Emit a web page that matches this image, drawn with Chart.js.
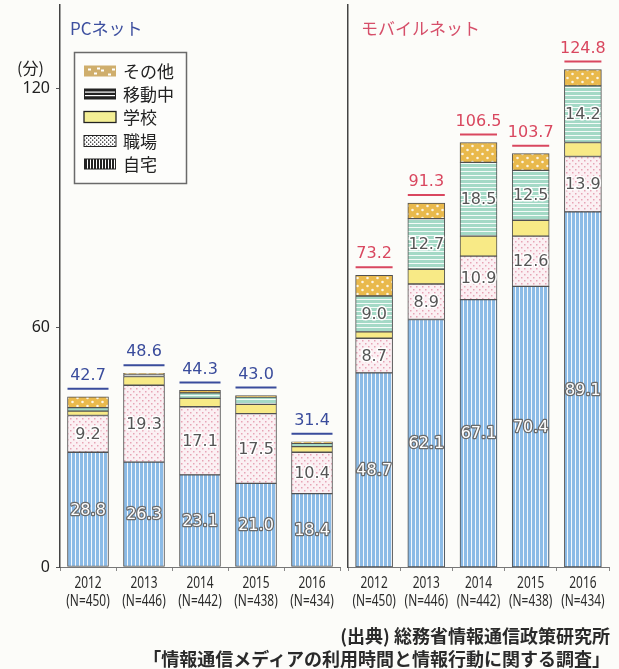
<!DOCTYPE html>
<html lang="ja">
<head>
<meta charset="utf-8">
<script src="https://cdn.jsdelivr.net/npm/chart.js@4.4.0/dist/chart.umd.min.js"></script>
<style>
  body { margin: 0; background: #fcfcf9; width: 619px; height: 669px; position: relative; overflow: hidden; font-family: "Noto Sans CJK JP", sans-serif; }
  #pcWrap { position: absolute; left: 0; top: 0; width: 348px; height: 669px; }
  #mobWrap { position: absolute; left: 340px; top: 0; width: 279px; height: 669px; }
  .ttl { position: absolute; top: 15px; font-size: 17px; white-space: nowrap; }
  .unit { position: absolute; left: 17px; top: 55px; font-size: 16px; color: #222; }
  .src { position: absolute; right: 9px; font-size: 18px; font-weight: bold; color: #2a2a2a; white-space: nowrap; }
</style>
</head>
<body>
<div id="pcWrap"><canvas id="pcChart"></canvas></div>
<div id="mobWrap"><canvas id="mobChart"></canvas></div>
<div class="ttl" style="left:70px;color:#3d4f9f;">PCネット</div>
<div class="ttl" style="left:361px;color:#d64f6a;">モバイルネット</div>
<div class="unit">(分)</div>
<div class="src" style="top:622px;">(出典) 総務省情報通信政策研究所</div>
<div class="src" style="top:645px;">「情報通信メディアの利用時間と情報行動に関する調査」</div>
<script>
const years = ['2012', '2013', '2014', '2015', '2016'];
const sampleN = ['(N=450)', '(N=446)', '(N=442)', '(N=438)', '(N=434)'];
const seriesNames = ['自宅', '職場', '学校', '移動中', 'その他'];
const yTicks = [0, 60, 120];

const pcHome = [28.8, 26.3, 23.1, 21.0, 18.4];
const pcWork = [9.2, 19.3, 17.1, 17.5, 10.4];
const pcSchool = [1.1, 2.2, 2.1, 2.3, 1.4];
const pcMoving = [0.9, 0.5, 1.4, 1.8, 0.8];
const pcOther = [2.7, 0.3, 0.6, 0.4, 0.4];
const pcTotal = [42.7, 48.6, 44.3, 43.0, 31.4];

const mobHome = [48.7, 62.1, 67.1, 70.4, 89.1];
const mobWork = [8.7, 8.9, 10.9, 12.6, 13.9];
const mobSchool = [1.6, 3.7, 5.0, 4.0, 3.5];
const mobMoving = [9.0, 12.7, 18.5, 12.5, 14.2];
const mobOther = [5.2, 3.9, 5.0, 4.2, 4.1];
const mobTotal = [73.2, 91.3, 106.5, 103.7, 124.8];

function makePattern(w, h, draw) {
  const c = document.createElement('canvas');
  c.width = w; c.height = h;
  const g = c.getContext('2d');
  draw(g, w, h);
  return g.createPattern(c, 'repeat');
}
const homeFill = makePattern(4, 4, (g, w, h) => {
  g.fillStyle = '#8cbbe6'; g.fillRect(0, 0, w, h);
  g.fillStyle = '#f4f8fc'; g.fillRect(3, 0, 1, h);
});
const workFill = makePattern(6, 6, (g, w, h) => {
  g.fillStyle = '#fbf0f3'; g.fillRect(0, 0, w, h);
  g.fillStyle = '#e7a4b6'; g.fillRect(1, 1, 1.5, 1.5); g.fillRect(4, 4, 1.5, 1.5);
});
const schoolFill = '#f8ea86';
const movingFill = makePattern(4, 4, (g, w, h) => {
  g.fillStyle = '#a4d9c6'; g.fillRect(0, 0, w, h);
  g.fillStyle = '#f4fbf8'; g.fillRect(0, 3, w, 1);
});
const otherFill = makePattern(10, 8, (g, w, h) => {
  g.fillStyle = '#e9b94c'; g.fillRect(0, 0, w, h);
  g.fillStyle = 'rgba(255,255,255,0.85)';
  g.beginPath(); g.arc(2.5, 2, 1.3, 0, Math.PI * 2); g.arc(7.5, 6, 1.3, 0, Math.PI * 2); g.fill();
});
const fills = [homeFill, workFill, schoolFill, movingFill, otherFill];

function makeDatasets(series) {
  return series.map((d, i) => ({
    label: seriesNames[i],
    data: d,
    backgroundColor: fills[i],
    borderColor: '#505050',
    borderWidth: 1,
    borderSkipped: false
  }));
}

const valueFont = '16px "DejaVu Sans", sans-serif';

const labelPlugin = {
  id: 'segLabels',
  afterDatasetsDraw(chart, args, opts) {
    const ctx = chart.ctx;
    ctx.save();
    ctx.textAlign = 'center';
    ctx.textBaseline = 'middle';
    ctx.font = valueFont;
    ctx.lineJoin = 'round';
    opts.show.forEach(di => {
      const meta = chart.getDatasetMeta(di);
      meta.data.forEach((bar, i) => {
        const v = chart.data.datasets[di].data[i];
        const y = (bar.y + bar.base) / 2 + 1;
        if (di === 0) {
          ctx.lineWidth = 2.5; ctx.strokeStyle = '#6a6a6a';
          ctx.strokeText(v.toFixed(1), bar.x, y);
          ctx.fillStyle = '#ffffff';
          ctx.fillText(v.toFixed(1), bar.x, y);
        } else {
          ctx.lineWidth = 3; ctx.strokeStyle = '#ffffff';
          ctx.strokeText(v.toFixed(1), bar.x, y);
          ctx.fillStyle = '#555555';
          ctx.fillText(v.toFixed(1), bar.x, y);
        }
      });
    });
    // totals with underline
    const yScale = chart.scales.y;
    const baseMeta = chart.getDatasetMeta(0);
    baseMeta.data.forEach((bar, i) => {
      const yT = yScale.getPixelForValue(opts.totals[i]);
      ctx.fillStyle = opts.color;
      ctx.fillText(opts.totals[i].toFixed(1), bar.x, yT - 21);
      ctx.strokeStyle = opts.color;
      ctx.lineWidth = 2;
      ctx.beginPath();
      ctx.moveTo(bar.x - bar.width / 2, yT - 8);
      ctx.lineTo(bar.x + bar.width / 2, yT - 8);
      ctx.stroke();
    });
    // condensed two-line category labels
    const xScale = chart.scales.x;
    ctx.fillStyle = '#2a2a2a';
    ctx.font = '17px "Noto Sans", sans-serif';
    years.forEach((yr, i) => {
      const x = xScale.getPixelForValue(i);
      [[yr, 583], [sampleN[i], 601]].forEach(([t, ty]) => {
        ctx.save();
        ctx.translate(x, ty);
        ctx.scale(0.7, 1);
        ctx.fillText(t, 0, 0);
        ctx.restore();
      });
    });
    ctx.restore();
  }
};

const legendPlugin = {
  id: 'boxLegend',
  afterDraw(chart, args, opts) {
    if (!opts.show) return;
    const ctx = chart.ctx;
    ctx.save();
    ctx.fillStyle = '#fdfdfb';
    ctx.fillRect(74.5, 52.5, 112, 131);
    ctx.strokeStyle = '#6a6a6a';
    ctx.lineWidth = 1.5;
    ctx.strokeRect(74.5, 52.5, 112, 131);
    const rows = [4, 3, 2, 1, 0];
    const ys = [71, 94, 117, 141, 164];
    const sx = 84, sw = 32, sh = 11;
    rows.forEach((si, r) => {
      const top = ys[r] - sh / 2;
      if (si === 4) {
        ctx.fillStyle = '#cfae6c'; ctx.fillRect(sx, top, sw, sh);
        ctx.fillStyle = '#ffffff';
        [[4, 3], [10, 7], [17, 4], [24, 8], [28, 3], [13, 2]].forEach(p => { ctx.fillRect(sx + p[0], top + p[1], 3, 2); });
      } else if (si === 3) {
        ctx.fillStyle = '#222'; ctx.fillRect(sx, top, sw, sh);
        ctx.fillStyle = '#fff'; ctx.fillRect(sx + 1, top + 3, sw - 2, 1.2); ctx.fillRect(sx + 1, top + 6.5, sw - 2, 1.2);
      } else if (si === 2) {
        ctx.fillStyle = '#f4ef95'; ctx.fillRect(sx, top, sw, sh);
        ctx.strokeStyle = '#222'; ctx.lineWidth = 1.3; ctx.strokeRect(sx, top, sw, sh);
      } else if (si === 1) {
        ctx.fillStyle = '#fff'; ctx.fillRect(sx, top, sw, sh);
        ctx.fillStyle = '#222';
        for (let x = 0; x < sw; x += 2) for (let y = 0; y < sh; y += 2) {
          if (((x + y) / 2) % 2 === 0) ctx.fillRect(sx + x, top + y, 1.3, 1.3);
        }
        ctx.strokeStyle = '#222'; ctx.lineWidth = 1; ctx.strokeRect(sx, top, sw, sh);
      } else {
        ctx.fillStyle = '#222'; ctx.fillRect(sx, top, sw, sh);
        ctx.fillStyle = '#fff';
        for (let x = 3; x < sw - 1; x += 3) ctx.fillRect(sx + x, top + 1, 1, sh - 2);
      }
      ctx.fillStyle = '#222';
      ctx.font = '17px "Noto Sans CJK JP", sans-serif';
      ctx.textAlign = 'left';
      ctx.textBaseline = 'middle';
      ctx.fillText(seriesNames[si], 123, ys[r] + 1);
    });
    ctx.restore();
  }
};

function makeChart(id, series, totals, color, isLeft) {
  return new Chart(document.getElementById(id), {
    type: 'bar',
    data: {
      labels: years,
      datasets: makeDatasets(series)
    },
    plugins: [labelPlugin, legendPlugin],
    options: {
      responsive: true,
      maintainAspectRatio: false,
      animation: false,
      barThickness: isLeft ? 41 : 37,
      layout: { padding: { top: 5, right: isLeft ? 8 : 10, bottom: 54, left: 0 } },
      plugins: {
        legend: { display: false },
        tooltip: { enabled: false },
        segLabels: { show: isLeft ? [0, 1] : [0, 1, 3], totals: totals, color: color },
        boxLegend: { show: isLeft }
      },
      scales: {
        x: {
          stacked: true,
          grid: { display: true, drawOnChartArea: false, drawTicks: true, tickLength: 4, color: '#888' },
          border: { color: '#777', width: 1 },
          ticks: { display: false },
          afterFit: s => { s.height = 48; s.paddingLeft = 0; s.paddingRight = 0; }
        },
        y: {
          stacked: true,
          min: 0,
          max: 141,
          afterBuildTicks: s => { s.ticks = yTicks.map(v => ({ value: v })); },
          grid: { display: isLeft, drawOnChartArea: false, drawTicks: true, tickLength: 4, color: '#555' },
          border: { color: '#444', width: 1.5 },
          ticks: {
            display: isLeft,
            color: '#222',
            padding: 6,
            font: { family: '"Noto Sans", sans-serif', size: 16 }
          },
          afterFit: s => { s.width = isLeft ? 60 : 8; s.paddingTop = 0; s.paddingBottom = 0; }
        }
      }
    }
  });
}

makeChart('pcChart', [pcHome, pcWork, pcSchool, pcMoving, pcOther], pcTotal, '#3a4c9c', true);
makeChart('mobChart', [mobHome, mobWork, mobSchool, mobMoving, mobOther], mobTotal, '#d9475f', false);
</script>
</body>
</html>
